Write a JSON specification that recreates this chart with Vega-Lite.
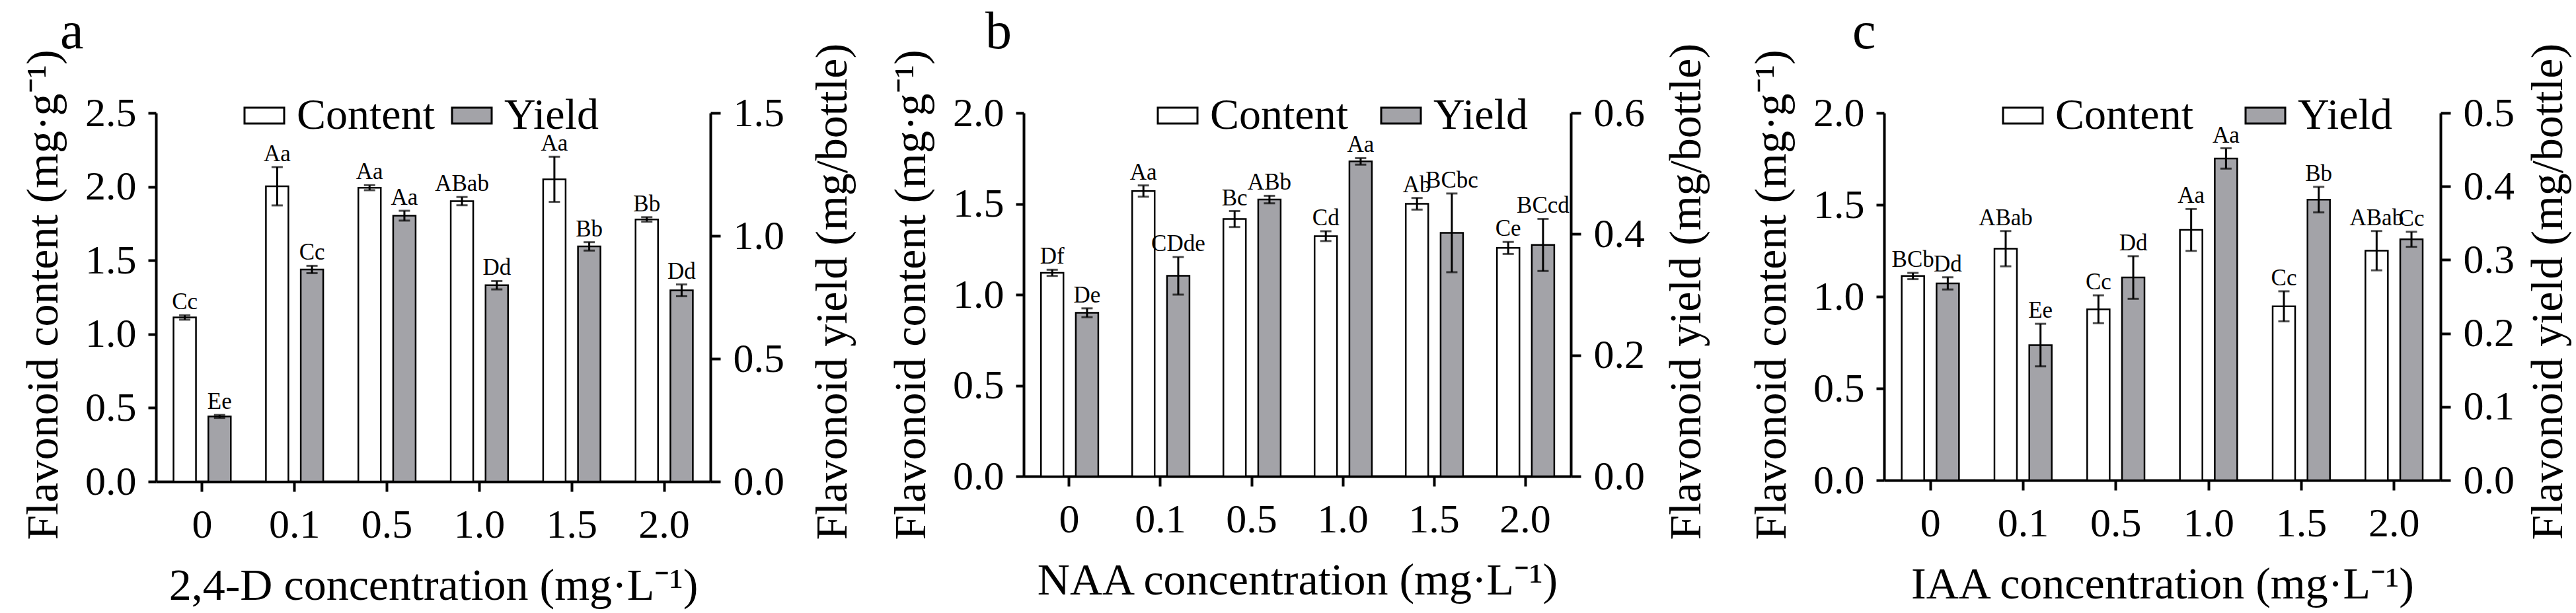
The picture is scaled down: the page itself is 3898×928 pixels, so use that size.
{
  "$schema": "https://vega.github.io/schema/vega-lite/v6.json",
  "autosize": {"type": "none"},
  "padding": {"left": 236, "top": 171, "right": 3662, "bottom": 757},
  "background": "white",
  "config": {
    "font": "Liberation Serif",
    "view": {"stroke": null},
    "axis": {
      "domainColor": "black", "domainWidth": 4, "tickColor": "black", "tickWidth": 4,
      "labelFont": "Liberation Serif", "labelFontSize": 62, "labelColor": "black",
      "titleFont": "Liberation Serif", "titleFontSize": 68, "titleFontWeight": "normal", "titleColor": "black",
      "grid": false
    },
    "legend": {
      "orient": "none", "direction": "horizontal", "padding": 0, "title": null,
      "symbolType": "M-1,-0.4H1V0.4H-1Z", "symbolSize": 3600,
      "symbolStrokeColor": "black", "symbolStrokeWidth": 3, "labelLimit": 0,
      "labelFont": "Liberation Serif", "labelFontSize": 66, "labelColor": "black", "labelOffset": 16
    }
  },
  "datasets": {
    "a": [
      {"conc": "0", "series": "Content", "mean": 1.113, "err": 0.015, "label": "Cc"},
      {"conc": "0.1", "series": "Content", "mean": 2.003, "err": 0.13, "label": "Aa"},
      {"conc": "0.5", "series": "Content", "mean": 1.993, "err": 0.017, "label": "Aa"},
      {"conc": "1.0", "series": "Content", "mean": 1.902, "err": 0.028, "label": "ABab"},
      {"conc": "1.5", "series": "Content", "mean": 2.05, "err": 0.153, "label": "Aa"},
      {"conc": "2.0", "series": "Content", "mean": 1.778, "err": 0.015, "label": "Bb"},
      {"conc": "0", "series": "Yield", "mean": 0.265, "err": 0.006, "label": "Ee"},
      {"conc": "0.1", "series": "Yield", "mean": 0.863, "err": 0.015, "label": "Cc"},
      {"conc": "0.5", "series": "Yield", "mean": 1.082, "err": 0.02, "label": "Aa"},
      {"conc": "1.0", "series": "Yield", "mean": 0.799, "err": 0.017, "label": "Dd"},
      {"conc": "1.5", "series": "Yield", "mean": 0.957, "err": 0.017, "label": "Bb"},
      {"conc": "2.0", "series": "Yield", "mean": 0.778, "err": 0.024, "label": "Dd"}
    ],
    "b": [
      {"conc": "0", "series": "Content", "mean": 1.12, "err": 0.017, "label": "Df"},
      {"conc": "0.1", "series": "Content", "mean": 1.57, "err": 0.031, "label": "Aa"},
      {"conc": "0.5", "series": "Content", "mean": 1.416, "err": 0.044, "label": "Bc"},
      {"conc": "1.0", "series": "Content", "mean": 1.322, "err": 0.027, "label": "Cd"},
      {"conc": "1.5", "series": "Content", "mean": 1.5, "err": 0.032, "label": "Ab"},
      {"conc": "2.0", "series": "Content", "mean": 1.257, "err": 0.033, "label": "Ce"},
      {"conc": "0", "series": "Yield", "mean": 0.27, "err": 0.0073, "label": "De"},
      {"conc": "0.1", "series": "Yield", "mean": 0.331, "err": 0.031, "label": "CDde"},
      {"conc": "0.5", "series": "Yield", "mean": 0.457, "err": 0.0062, "label": "ABb"},
      {"conc": "1.0", "series": "Yield", "mean": 0.52, "err": 0.0054, "label": "Aa"},
      {"conc": "1.5", "series": "Yield", "mean": 0.402, "err": 0.065, "label": "BCbc"},
      {"conc": "2.0", "series": "Yield", "mean": 0.382, "err": 0.043, "label": "BCcd"}
    ],
    "c": [
      {"conc": "0", "series": "Content", "mean": 1.112, "err": 0.017, "label": "BCb"},
      {"conc": "0.1", "series": "Content", "mean": 1.261, "err": 0.096, "label": "ABab"},
      {"conc": "0.5", "series": "Content", "mean": 0.931, "err": 0.076, "label": "Cc"},
      {"conc": "1.0", "series": "Content", "mean": 1.363, "err": 0.114, "label": "Aa"},
      {"conc": "1.5", "series": "Content", "mean": 0.947, "err": 0.082, "label": "Cc"},
      {"conc": "2.0", "series": "Content", "mean": 1.25, "err": 0.107, "label": "ABab"},
      {"conc": "0", "series": "Yield", "mean": 0.268, "err": 0.0083, "label": "Dd"},
      {"conc": "0.1", "series": "Yield", "mean": 0.184, "err": 0.029, "label": "Ee"},
      {"conc": "0.5", "series": "Yield", "mean": 0.276, "err": 0.029, "label": "Dd"},
      {"conc": "1.0", "series": "Yield", "mean": 0.438, "err": 0.0138, "label": "Aa"},
      {"conc": "1.5", "series": "Yield", "mean": 0.382, "err": 0.0174, "label": "Bb"},
      {"conc": "2.0", "series": "Yield", "mean": 0.328, "err": 0.0102, "label": "Cc"}
    ]
  },
  "bounds": "flush",
  "spacing": 474,
  "resolve": {"scale": {"color": "independent"}, "legend": {"color": "independent"}},
  "hconcat": [
    {
      "width": 839, "height": 558,
      "title": {"text": "a", "anchor": "start", "frame": "group", "dx": -145, "offset": -88, "fontSize": 80, "fontWeight": "normal", "baseline": "alphabetic", "color": "black"},
      "data": {"name": "a"},
      "transform": [{"calculate": "datum.mean - datum.err", "as": "lo"}, {"calculate": "datum.mean + datum.err", "as": "hi"}],
      "encoding": {
        "x": {"field": "conc", "type": "nominal", "sort": ["0", "0.1", "0.5", "1.0", "1.5", "2.0"], "scale": {"paddingInner": 0.38, "paddingOuter": 0.19},
              "axis": {"title": "2,4-D concentration (mg·L⁻¹)", "labelAngle": 0, "tickSize": 15, "labelPadding": 20, "titlePadding": 28}},
        "xOffset": {"field": "series", "type": "nominal", "scale": {"domain": ["Content", "Yield"], "paddingInner": 0.355}}
      },
      "layer": [
        {
          "transform": [{"filter": "datum.series === 'Content'"}],
          "encoding": {
            "y": {"field": "mean", "type": "quantitative", "scale": {"domain": [0, 2.5], "nice": false},
                  "axis": {"title": "Flavonoid content (mg·g⁻¹)", "values": [0, 0.5, 1, 1.5, 2, 2.5], "format": ".1f", "tickSize": 12, "labelPadding": 18, "titleAngle": -90, "titleAnchor": "start", "titleAlign": "left", "titleBaseline": "bottom", "titleY": 646, "titlePadding": 28}}
          },
          "layer": [
            {"mark": {"type": "bar", "stroke": "black", "strokeWidth": 2.5},
             "encoding": {
               "color": {"field": "series", "type": "nominal", "scale": {"domain": ["Content", "Yield"], "range": ["white", "#a3a3a8"]},
                         "legend": {"legendX": 131, "legendY": -29, "columnPadding": 20}}
             }},
            {"mark": {"type": "rule", "strokeWidth": 3, "color": "black"},
             "encoding": {"y": {"field": "lo", "type": "quantitative"}, "y2": {"field": "hi"}}},
            {"mark": {"type": "tick", "size": 17, "thickness": 3, "color": "black"},
             "encoding": {"y": {"field": "lo", "type": "quantitative"}}},
            {"mark": {"type": "tick", "size": 17, "thickness": 3, "color": "black"},
             "encoding": {"y": {"field": "hi", "type": "quantitative"}}},
            {"mark": {"type": "text", "dy": -9, "baseline": "alphabetic", "fontSize": 35, "color": "black"},
             "encoding": {"y": {"field": "hi", "type": "quantitative"}, "text": {"field": "label"}}}
          ]
        },
        {
          "transform": [{"filter": "datum.series === 'Yield'"}],
          "encoding": {
            "y": {"field": "mean", "type": "quantitative", "scale": {"domain": [0, 1.5], "nice": false},
                  "axis": {"orient": "right", "title": "Flavonoid yield (mg/bottle)", "values": [0, 0.5, 1, 1.5], "format": ".1f", "tickSize": 15, "labelPadding": 19, "titleAngle": -90, "titleAnchor": "start", "titleAlign": "left", "titleBaseline": "top", "titleY": 646, "titlePadding": 40}}
          },
          "layer": [
            {"mark": {"type": "bar", "stroke": "black", "strokeWidth": 2.5},
             "encoding": {
               "color": {"field": "series", "type": "nominal", "scale": {"domain": ["Content", "Yield"], "range": ["white", "#a3a3a8"]},
                         "legend": {"legendX": 131, "legendY": -29, "columnPadding": 20}}
             }},
            {"mark": {"type": "rule", "strokeWidth": 3, "color": "black"},
             "encoding": {"y": {"field": "lo", "type": "quantitative"}, "y2": {"field": "hi"}}},
            {"mark": {"type": "tick", "size": 17, "thickness": 3, "color": "black"},
             "encoding": {"y": {"field": "lo", "type": "quantitative"}}},
            {"mark": {"type": "tick", "size": 17, "thickness": 3, "color": "black"},
             "encoding": {"y": {"field": "hi", "type": "quantitative"}}},
            {"mark": {"type": "text", "dy": -9, "baseline": "alphabetic", "fontSize": 35, "color": "black"},
             "encoding": {"y": {"field": "hi", "type": "quantitative"}, "text": {"field": "label"}}}
          ]
        }
      ],
      "resolve": {"scale": {"y": "independent"}}
    },
    {
      "width": 828, "height": 550,
      "title": {"text": "b", "anchor": "start", "frame": "group", "dx": -58, "offset": -88, "fontSize": 80, "fontWeight": "normal", "baseline": "alphabetic", "color": "black"},
      "data": {"name": "b"},
      "transform": [{"calculate": "datum.mean - datum.err", "as": "lo"}, {"calculate": "datum.mean + datum.err", "as": "hi"}],
      "encoding": {
        "x": {"field": "conc", "type": "nominal", "sort": ["0", "0.1", "0.5", "1.0", "1.5", "2.0"], "scale": {"paddingInner": 0.38, "paddingOuter": 0.19},
              "axis": {"title": "NAA concentration (mg·L⁻¹)", "labelAngle": 0, "tickSize": 15, "labelPadding": 20, "titlePadding": 28}},
        "xOffset": {"field": "series", "type": "nominal", "scale": {"domain": ["Content", "Yield"], "paddingInner": 0.355}}
      },
      "layer": [
        {
          "transform": [{"filter": "datum.series === 'Content'"}],
          "encoding": {
            "y": {"field": "mean", "type": "quantitative", "scale": {"domain": [0, 2], "nice": false},
                  "axis": {"title": "Flavonoid content (mg·g⁻¹)", "values": [0, 0.5, 1, 1.5, 2], "format": ".1f", "tickSize": 12, "labelPadding": 18, "titleAngle": -90, "titleAnchor": "start", "titleAlign": "left", "titleBaseline": "bottom", "titleY": 646, "titlePadding": 28}}
          },
          "layer": [
            {"mark": {"type": "bar", "stroke": "black", "strokeWidth": 2.5},
             "encoding": {
               "color": {"field": "series", "type": "nominal", "scale": {"domain": ["Content", "Yield"], "range": ["white", "#a3a3a8"]},
                         "legend": {"legendX": 200, "legendY": -29, "columnPadding": 44}}
             }},
            {"mark": {"type": "rule", "strokeWidth": 3, "color": "black"},
             "encoding": {"y": {"field": "lo", "type": "quantitative"}, "y2": {"field": "hi"}}},
            {"mark": {"type": "tick", "size": 17, "thickness": 3, "color": "black"},
             "encoding": {"y": {"field": "lo", "type": "quantitative"}}},
            {"mark": {"type": "tick", "size": 17, "thickness": 3, "color": "black"},
             "encoding": {"y": {"field": "hi", "type": "quantitative"}}},
            {"mark": {"type": "text", "dy": -9, "baseline": "alphabetic", "fontSize": 35, "color": "black"},
             "encoding": {"y": {"field": "hi", "type": "quantitative"}, "text": {"field": "label"}}}
          ]
        },
        {
          "transform": [{"filter": "datum.series === 'Yield'"}],
          "encoding": {
            "y": {"field": "mean", "type": "quantitative", "scale": {"domain": [0, 0.6], "nice": false},
                  "axis": {"orient": "right", "title": "Flavonoid yield (mg/bottle)", "values": [0, 0.2, 0.4, 0.6], "format": ".1f", "tickSize": 15, "labelPadding": 19, "titleAngle": -90, "titleAnchor": "start", "titleAlign": "left", "titleBaseline": "top", "titleY": 646, "titlePadding": 30}}
          },
          "layer": [
            {"mark": {"type": "bar", "stroke": "black", "strokeWidth": 2.5},
             "encoding": {
               "color": {"field": "series", "type": "nominal", "scale": {"domain": ["Content", "Yield"], "range": ["white", "#a3a3a8"]},
                         "legend": {"legendX": 200, "legendY": -29, "columnPadding": 44}}
             }},
            {"mark": {"type": "rule", "strokeWidth": 3, "color": "black"},
             "encoding": {"y": {"field": "lo", "type": "quantitative"}, "y2": {"field": "hi"}}},
            {"mark": {"type": "tick", "size": 17, "thickness": 3, "color": "black"},
             "encoding": {"y": {"field": "lo", "type": "quantitative"}}},
            {"mark": {"type": "tick", "size": 17, "thickness": 3, "color": "black"},
             "encoding": {"y": {"field": "hi", "type": "quantitative"}}},
            {"mark": {"type": "text", "dy": -9, "baseline": "alphabetic", "fontSize": 35, "color": "black"},
             "encoding": {"y": {"field": "hi", "type": "quantitative"}, "text": {"field": "label"}}}
          ]
        }
      ],
      "resolve": {"scale": {"y": "independent"}}
    },
    {
      "width": 842, "height": 556,
      "title": {"text": "c", "anchor": "start", "frame": "group", "dx": -48, "offset": -88, "fontSize": 80, "fontWeight": "normal", "baseline": "alphabetic", "color": "black"},
      "data": {"name": "c"},
      "transform": [{"calculate": "datum.mean - datum.err", "as": "lo"}, {"calculate": "datum.mean + datum.err", "as": "hi"}],
      "encoding": {
        "x": {"field": "conc", "type": "nominal", "sort": ["0", "0.1", "0.5", "1.0", "1.5", "2.0"], "scale": {"paddingInner": 0.38, "paddingOuter": 0.19},
              "axis": {"title": "IAA concentration (mg·L⁻¹)", "labelAngle": 0, "tickSize": 15, "labelPadding": 20, "titlePadding": 28}},
        "xOffset": {"field": "series", "type": "nominal", "scale": {"domain": ["Content", "Yield"], "paddingInner": 0.355}}
      },
      "layer": [
        {
          "transform": [{"filter": "datum.series === 'Content'"}],
          "encoding": {
            "y": {"field": "mean", "type": "quantitative", "scale": {"domain": [0, 2], "nice": false},
                  "axis": {"title": "Flavonoid content (mg·g⁻¹)", "values": [0, 0.5, 1, 1.5, 2], "format": ".1f", "tickSize": 12, "labelPadding": 18, "titleAngle": -90, "titleAnchor": "start", "titleAlign": "left", "titleBaseline": "bottom", "titleY": 646, "titlePadding": 28}}
          },
          "layer": [
            {"mark": {"type": "bar", "stroke": "black", "strokeWidth": 2.5},
             "encoding": {
               "color": {"field": "series", "type": "nominal", "scale": {"domain": ["Content", "Yield"], "range": ["white", "#a3a3a8"]},
                         "legend": {"legendX": 177, "legendY": -29, "columnPadding": 73}}
             }},
            {"mark": {"type": "rule", "strokeWidth": 3, "color": "black"},
             "encoding": {"y": {"field": "lo", "type": "quantitative"}, "y2": {"field": "hi"}}},
            {"mark": {"type": "tick", "size": 17, "thickness": 3, "color": "black"},
             "encoding": {"y": {"field": "lo", "type": "quantitative"}}},
            {"mark": {"type": "tick", "size": 17, "thickness": 3, "color": "black"},
             "encoding": {"y": {"field": "hi", "type": "quantitative"}}},
            {"mark": {"type": "text", "dy": -9, "baseline": "alphabetic", "fontSize": 35, "color": "black"},
             "encoding": {"y": {"field": "hi", "type": "quantitative"}, "text": {"field": "label"}}}
          ]
        },
        {
          "transform": [{"filter": "datum.series === 'Yield'"}],
          "encoding": {
            "y": {"field": "mean", "type": "quantitative", "scale": {"domain": [0, 0.5], "nice": false},
                  "axis": {"orient": "right", "title": "Flavonoid yield (mg/bottle)", "values": [0, 0.1, 0.2, 0.3, 0.4, 0.5], "format": ".1f", "tickSize": 15, "labelPadding": 19, "titleAngle": -90, "titleAnchor": "start", "titleAlign": "left", "titleBaseline": "top", "titleY": 646, "titlePadding": 18}}
          },
          "layer": [
            {"mark": {"type": "bar", "stroke": "black", "strokeWidth": 2.5},
             "encoding": {
               "color": {"field": "series", "type": "nominal", "scale": {"domain": ["Content", "Yield"], "range": ["white", "#a3a3a8"]},
                         "legend": {"legendX": 177, "legendY": -29, "columnPadding": 73}}
             }},
            {"mark": {"type": "rule", "strokeWidth": 3, "color": "black"},
             "encoding": {"y": {"field": "lo", "type": "quantitative"}, "y2": {"field": "hi"}}},
            {"mark": {"type": "tick", "size": 17, "thickness": 3, "color": "black"},
             "encoding": {"y": {"field": "lo", "type": "quantitative"}}},
            {"mark": {"type": "tick", "size": 17, "thickness": 3, "color": "black"},
             "encoding": {"y": {"field": "hi", "type": "quantitative"}}},
            {"mark": {"type": "text", "dy": -9, "baseline": "alphabetic", "fontSize": 35, "color": "black"},
             "encoding": {"y": {"field": "hi", "type": "quantitative"}, "text": {"field": "label"}}}
          ]
        }
      ],
      "resolve": {"scale": {"y": "independent"}}
    }
  ]
}
